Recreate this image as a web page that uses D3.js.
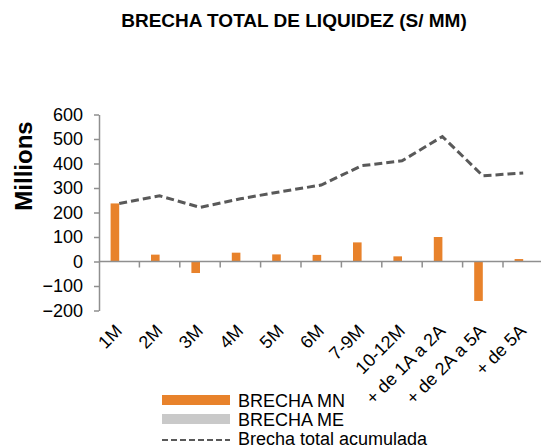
<!DOCTYPE html>
<html>
<head>
<meta charset="utf-8">
<script src="https://cdn.jsdelivr.net/npm/d3@7"></script>
<style>
  body { margin: 0; background: #fff; }
  svg { display: block; font-family: "Liberation Sans", Arial, sans-serif; }
</style>
</head>
<body>
<svg id="chart" width="541" height="448"></svg>
<script>
// chart values
const categories = ["1M", "2M", "3M", "4M", "5M", "6M", "7-9M", "10-12M", "+ de 1A a 2A", "+ de 2A a 5A", "+ de 5A"];
const brechaMN = [237, 28, -47, 36, 29, 27, 78, 21, 100, -161, 10];
const brechaME = [0, 0, 0, 0, 0, 0, 0, 0, 0, 0, 0];
const brechaAcumulada = [237, 268, 221, 256, 285, 312, 391, 411, 510, 350, 361];
const yTicks = [-200, -100, 0, 100, 200, 300, 400, 500, 600];

const legendItems = [
    { label: "BRECHA MN", type: "bar", color: "#e8822b" },
    { label: "BRECHA ME", type: "bar", color: "#c9c9c9" },
    { label: "Brecha total acumulada", type: "line", color: "#595959" }
];

const svg = d3.select("#chart");
const margin = { top: 114.5, left: 99, bottom: 310.5 };
const plotRight = 543.4; // the plot runs slightly past the picture edge

const x = d3.scaleBand()
    .domain(categories)
    .range([margin.left, plotRight]);

const series = d3.scaleBand()
    .domain(["MN", "ME"])
    .range([-8.6, 8.6]);

const y = d3.scaleLinear()
    .domain([-200, 600])
    .range([margin.bottom, margin.top]);

const axisColor = "#8f8f8f";

// title
svg.append("text")
    .attr("x", 294)
    .attr("y", 27)
    .attr("text-anchor", "middle")
    .style("font-weight", "bold")
    .style("font-size", "19px")
    .text("BRECHA TOTAL DE LIQUIDEZ (S/ MM)");

// y axis title
svg.append("text")
    .attr("transform", `translate(32, 166) rotate(-90)`)
    .attr("text-anchor", "middle")
    .style("font-weight", "bold")
    .style("font-size", "24px")
    .text("Millions");

// y axis
const yAxis = svg.append("g")
    .attr("transform", `translate(${margin.left}, 0)`)
    .call(d3.axisLeft(y).tickValues(yTicks).tickSize(5).tickPadding(11).tickSizeOuter(0));
yAxis.selectAll("path, line").attr("stroke", axisColor).attr("stroke-width", 1.5);
yAxis.selectAll("text")
    .style("font-size", "18px")
    .style("font-family", "'Liberation Sans', Arial, sans-serif")
    .attr("fill", "#000");

// bars
const bars = svg.append("g");
categories.forEach((c, i) => {
    const cx = x(c) + x.bandwidth() / 2;
    [["MN", brechaMN[i], legendItems[0].color], ["ME", brechaME[i], legendItems[1].color]].forEach(([k, v, col]) => {
        bars.append("rect")
            .attr("x", cx + series(k))
            .attr("y", y(Math.max(0, v)))
            .attr("width", series.bandwidth())
            .attr("height", Math.abs(y(v) - y(0)))
            .attr("fill", col);
    });
});

// x axis at zero, ticks between categories
const xAxis = svg.append("g");
xAxis.append("line")
    .attr("x1", margin.left)
    .attr("x2", plotRight)
    .attr("y1", y(0))
    .attr("y2", y(0))
    .attr("stroke", axisColor)
    .attr("stroke-width", 1.5);
xAxis.selectAll(".tick")
    .data(categories.slice(1))
    .enter()
    .append("line")
    .attr("x1", d => x(d))
    .attr("x2", d => x(d))
    .attr("y1", y(0))
    .attr("y2", y(0) + 6)
    .attr("stroke", axisColor)
    .attr("stroke-width", 1.5);

// category labels at the bottom of the plot
svg.append("g")
    .selectAll("text")
    .data(categories)
    .enter()
    .append("text")
    .attr("transform", d => `translate(${x(d) + x.bandwidth() / 2 + 4}, 332) rotate(-45)`)
    .attr("text-anchor", "end")
    .style("font-size", "18px")
    .text(d => d);

// cumulative line
const line = d3.line()
    .x((d, i) => x(categories[i]) + x.bandwidth() / 2)
    .y(d => y(d));

svg.append("path")
    .datum(brechaAcumulada)
    .attr("d", line)
    .attr("fill", "none")
    .attr("stroke", legendItems[2].color)
    .attr("stroke-width", 3)
    .attr("stroke-dasharray", "8,4");

// legend
const legend = svg.append("g").attr("transform", "translate(162, 0)");
legendItems.forEach((d, i) => {
    const rowY = 400 + i * 19;
    if (d.type === "bar") {
        legend.append("rect")
            .attr("x", 0)
            .attr("y", rowY - 5)
            .attr("width", 68)
            .attr("height", 10)
            .attr("fill", d.color);
    } else {
        legend.append("line")
            .attr("x1", 0)
            .attr("x2", 68)
            .attr("y1", rowY + 2)
            .attr("y2", rowY + 2)
            .attr("stroke", d.color)
            .attr("stroke-width", 2)
            .attr("stroke-dasharray", "6,3");
    }
    legend.append("text")
        .attr("x", 76)
        .attr("y", rowY + 6.5)
        .style("font-size", "18px")
        .text(d.label);
});
</script>
</body>
</html>
